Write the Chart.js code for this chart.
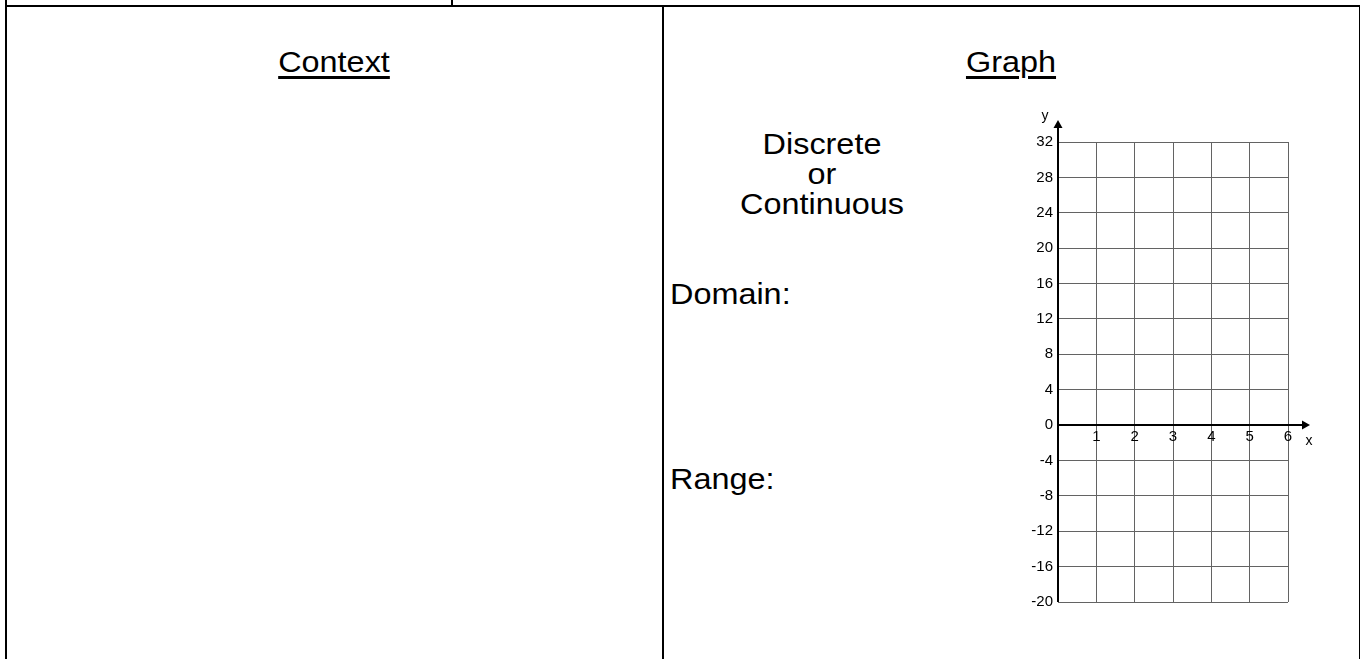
<!DOCTYPE html>
<html>
<head>
<meta charset="utf-8">
<script src="https://cdn.jsdelivr.net/npm/chart.js@4"></script>
<style>
  html, body { margin:0; padding:0; background:#fff; }
  body { width:1360px; height:659px; position:relative; overflow:hidden; font-family:"Liberation Sans", Arial, sans-serif; color:#000; }
  .ln { position:absolute; background:#000; }
  .t { position:absolute; font-size:30px; line-height:30px; white-space:nowrap; }
  .c { transform:translateX(-50%) scaleX(1.08); transform-origin:center; }
  .l { transform:scaleX(1.08); transform-origin:left; }
  .u { text-decoration:underline; text-decoration-thickness:2.5px; text-underline-offset:4px; }
  #wrap { position:absolute; left:1000px; top:100px; width:330px; height:530px; }
</style>
</head>
<body>
  <!-- table borders -->
  <div class="ln" style="left:5px; top:5px; width:1355px; height:2px;"></div>
  <div class="ln" style="left:5px; top:0px; width:2px; height:659px;"></div>
  <div class="ln" style="left:451px; top:0px; width:2px; height:6px;"></div>
  <div class="ln" style="left:662px; top:5px; width:2px; height:654px;"></div>
  <div class="ln" style="left:1359px; top:5px; width:2px; height:654px;"></div>

  <div class="t c u" style="left:334px; top:46.6px;">Context</div>
  <div class="t c u" style="left:1011px; top:46.6px;">Graph</div>

  <div class="t c" style="left:822px; top:128.5px;">Discrete</div>
  <div class="t c" style="left:822px; top:158.5px;">or</div>
  <div class="t c" style="left:822px; top:188.5px;">Continuous</div>

  <div class="t l" style="left:670px; top:278.6px;">Domain:</div>
  <div class="t l" style="left:670px; top:463.6px;">Range:</div>

  <div id="wrap"><canvas id="chart" width="330" height="530"></canvas></div>

<script>
// ---- data (empty coordinate grid) ----
const xTicks = [0, 1, 2, 3, 4, 5, 6];
const xTickLabels = ['', '1', '2', '3', '4', '5', '6'];
const yTicks = [-20, -16, -12, -8, -4, 0, 4, 8, 12, 16, 20, 24, 28, 32];
const yTickLabels = ['-20', '-16', '-12', '-8', '-4', '0', '4', '8', '12', '16', '20', '24', '28', '32'];
const xAxisTitle = 'x';
const yAxisTitle = 'y';
const points = [];

const FONT = 'Liberation Sans, Arial, sans-serif';
const GRID = '#636363';

const axesPlugin = {
  id: 'axesArrows',
  afterDraw(chart) {
    const { ctx, chartArea, scales: { x, y } } = chart;
    const x0 = x.getPixelForValue(0);
    const y0 = y.getPixelForValue(0);
    const yBot = y.getPixelForValue(yTicks[0]);
    const tipY = chartArea.top - 22;
    const tipX = chartArea.right + 22;
    ctx.save();
    ctx.strokeStyle = '#000';
    ctx.fillStyle = '#000';
    ctx.lineWidth = 2;
    // y axis
    ctx.beginPath();
    ctx.moveTo(x0, yBot);
    ctx.lineTo(x0, tipY + 5);
    ctx.stroke();
    ctx.beginPath();
    ctx.moveTo(x0, tipY);
    ctx.lineTo(x0 - 4.5, tipY + 8);
    ctx.lineTo(x0 + 4.5, tipY + 8);
    ctx.closePath();
    ctx.fill();
    // x axis
    ctx.beginPath();
    ctx.moveTo(x0 - 1, y0);
    ctx.lineTo(tipX - 5, y0);
    ctx.stroke();
    ctx.beginPath();
    ctx.moveTo(tipX, y0);
    ctx.lineTo(tipX - 8, y0 - 4.5);
    ctx.lineTo(tipX - 8, y0 + 4.5);
    ctx.closePath();
    ctx.fill();
    // axis letters
    ctx.font = '14px ' + FONT;
    ctx.textAlign = 'center';
    ctx.textBaseline = 'alphabetic';
    ctx.fillText(yAxisTitle, x0 - 13, tipY + 0);
    ctx.fillText(xAxisTitle, tipX - 1, y0 + 20);
    ctx.restore();
  }
};

new Chart(document.getElementById('chart'), {
  type: 'scatter',
  data: { datasets: [{ data: points, pointRadius: 0 }] },
  options: {
    responsive: false,
    animation: false,
    devicePixelRatio: 1,
    layout: { padding: { top: 42, right: 42, bottom: 28, left: 0 } },
    plugins: { legend: { display: false }, tooltip: { enabled: false } },
    scales: {
      x: {
        type: 'linear',
        min: xTicks[0], max: xTicks[xTicks.length - 1],
        position: { y: 0 },
        afterBuildTicks: s => { s.ticks = xTicks.map(v => ({ value: v })); },
        ticks: {
          autoSkip: false, maxRotation: 0, padding: 3,
          color: '#000', font: { family: FONT, size: 15 },
          callback: (v) => xTickLabels[xTicks.indexOf(v)]
        },
        grid: { color: GRID, lineWidth: 1, drawTicks: false },
        border: { display: false }
      },
      y: {
        type: 'linear',
        min: yTicks[0], max: yTicks[yTicks.length - 1],
        position: 'left',
        afterBuildTicks: s => { s.ticks = yTicks.map(v => ({ value: v })); },
        afterFit: s => { s.width = 58; },
        ticks: {
          autoSkip: false, padding: 5,
          color: '#000', font: { family: FONT, size: 15 },
          callback: (v) => yTickLabels[yTicks.indexOf(v)]
        },
        grid: { color: GRID, lineWidth: 1, drawTicks: false },
        border: { display: false }
      }
    }
  },
  plugins: [axesPlugin]
});
</script>
</body>
</html>
